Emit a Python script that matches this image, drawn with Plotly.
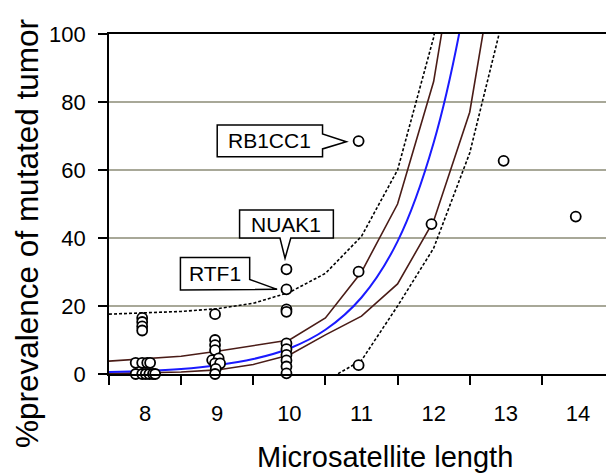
import plotly.graph_objects as go

# ---------------- data ----------------
# observed points (x jitter as read from the picture)
pt_x = [7.96, 7.96, 7.96, 7.96,
        7.87, 7.96, 8.03, 8.07,
        7.87, 7.96, 8.01, 8.06, 8.11, 8.14,
        8.97, 8.97, 8.97, 8.97,
        8.93, 9.02, 8.97, 9.04, 8.98, 8.97,
        9.96, 9.96, 9.96, 9.96, 9.96, 9.96, 9.96, 9.96, 9.96, 9.96,
        10.96, 10.96, 10.96,
        11.97, 12.97, 13.97]
pt_y = [16.5, 15.3, 14.0, 12.8,
        3.3, 3.3, 3.3, 3.3,
        0, 0, 0, 0, 0, 0,
        17.6, 10.0, 8.5, 7.0,
        4.1, 4.6, 3.1, 3.1, 1.5, 0,
        30.8, 24.9, 19.0, 18.3, 9.0, 7.3, 5.6, 4.0, 2.2, 0.2,
        68.5, 30.1, 2.6,
        44.1, 62.7, 46.3]

curve_x = [7.5, 8, 8.5, 9, 9.5, 10, 10.5, 11, 11.5, 12, 12.5, 13]
fit_y = [0.6, 0.9, 1.5, 2.6, 4.4, 7.5, 13.0, 22.5, 39.0, 68.0, 117.0, 200.0]
ci_upper = [3.8, 4.4, 5.2, 6.7, 8.3, 10.0, 16.5, 30.0, 50.0, 86.0, 150.0, 250.0]
ci_lower = [0.1, 0.3, 0.6, 1.2, 2.8, 5.6, 11.5, 17.0, 26.5, 45.0, 77.0, 140.0]
pi_upper = [17.6, 17.9, 18.4, 19.2, 20.8, 24.0, 29.6, 40.5, 60.0, 99.0, 160.0, 250.0]
pi_lower = [-20.0, -16.0, -12.0, -9.0, -6.0, -4.0, -2.0, 4.0, 20.0, 37.0, 65.0, 108.0]

x_ticks = [8, 9, 10, 11, 12, 13, 14]
x_tick_text = ["8", "9", "10", "11", "12", "13", "14"]
x_minor = [7.5, 8.5, 9.5, 10.5, 11.5, 12.5, 13.5, 14.5]
y_ticks = [0, 20, 40, 60, 80, 100]

FONT = "Liberation Sans, Arial, Helvetica, sans-serif"
BROWN = "#4a1c17"

# the page body adds an 8px offset; size the figure so it fills the 614x473 window
OFF = 8
W, H = 614 - OFF, 473 - OFF
L, R, T, B = 109 - OFF, 0, 34 - OFF, 99
PW, PH = W - L - R, H - T - B


def px_to_paper(px, py):
    return (px - OFF - L) / PW, (H - (py - OFF) - B) / PH


fig = go.Figure()
for yy in (pi_upper, pi_lower):
    fig.add_trace(go.Scatter(x=curve_x, y=yy, mode="lines",
                             line=dict(color="black", width=1.6, dash="3px,2px"),
                             hoverinfo="skip"))
for yy in (ci_upper, ci_lower):
    fig.add_trace(go.Scatter(x=curve_x, y=yy, mode="lines",
                             line=dict(color=BROWN, width=1.6), hoverinfo="skip"))
fig.add_trace(go.Scatter(x=curve_x, y=fit_y, mode="lines",
                         line=dict(color="#1a1aff", width=2, shape="spline"),
                         hoverinfo="skip"))
fig.add_trace(go.Scatter(x=pt_x, y=pt_y, mode="markers", cliponaxis=False,
                         marker=dict(symbol="circle", size=10, color="white",
                                     line=dict(color="black", width=1.8))))

# callout boxes (data coordinates)
callouts = [
    dict(text="RB1CC1", tx=9.73, ty=68.55,
         path="M 9.0,63.9 L 9.0,73.2 L 10.46,73.2 L 10.46,70.6 L 10.79,68.3 L 10.46,66.2 L 10.46,63.9 Z"),
    dict(text="NUAK1", tx=9.96, ty=44.1,
         path="M 9.31,40.0 L 9.31,48.2 L 10.61,48.2 L 10.61,40.0 L 10.02,40.0 L 9.94,34.0 L 9.87,40.0 Z"),
    dict(text="RTF1", tx=8.97, ty=29.5,
         path="M 8.49,24.7 L 8.49,34.3 L 9.45,34.3 L 9.45,27.8 L 9.83,24.9 Z"),
]
for c in callouts:
    fig.add_shape(type="path", path=c["path"], xref="x", yref="y",
                  fillcolor="white", line=dict(color="black", width=1.5), layer="above")
    fig.add_annotation(x=c["tx"], y=c["ty"], xref="x", yref="y", text=c["text"],
                       showarrow=False, font=dict(family=FONT, size=21, color="black"))

# axis titles as annotations (placed as in the original)
yx, yy_ = px_to_paper(27, 234)
fig.add_annotation(x=yx, y=yy_, xref="paper", yref="paper",
                   text="%prevalence of mutated tumor", textangle=-90, showarrow=False,
                   xanchor="center", yanchor="middle", borderpad=0,
                   font=dict(family=FONT, size=31.5, color="black"))
xx, xy = px_to_paper(385, 457)
fig.add_annotation(x=xx, y=xy, xref="paper", yref="paper",
                   text="Microsatellite length", showarrow=False,
                   xanchor="center", yanchor="middle",
                   font=dict(family=FONT, size=29, color="black"))

fig.update_layout(
    width=W, height=H, margin=dict(l=L, r=R, t=T, b=B, autoexpand=False),
    paper_bgcolor="white", plot_bgcolor="white", showlegend=False,
    font=dict(family=FONT, color="black"),
)
fig.update_xaxes(range=[7.5, 14.5], tickmode="array", tickvals=x_ticks, ticktext=x_tick_text,
                 ticks="", ticklabelstandoff=19, tickfont=dict(size=22), automargin=False,
                 minor=dict(tickmode="array", tickvals=x_minor, ticks="outside",
                            ticklen=9, tickwidth=1.6, tickcolor="black", showgrid=False),
                 showline=True, linecolor="black", linewidth=1.8, mirror=True,
                 showgrid=False, zeroline=False)
fig.update_yaxes(range=[0, 100], tickmode="array", tickvals=y_ticks,
                 ticks="outside", ticklen=9, tickwidth=1.6, tickcolor="black",
                 ticklabelstandoff=8, tickfont=dict(size=22), automargin=False,
                 showline=True, linecolor="black", linewidth=1.8,
                 showgrid=True, gridcolor="#a8a898", gridwidth=2, zeroline=False)

fig.write_html("out.html")
